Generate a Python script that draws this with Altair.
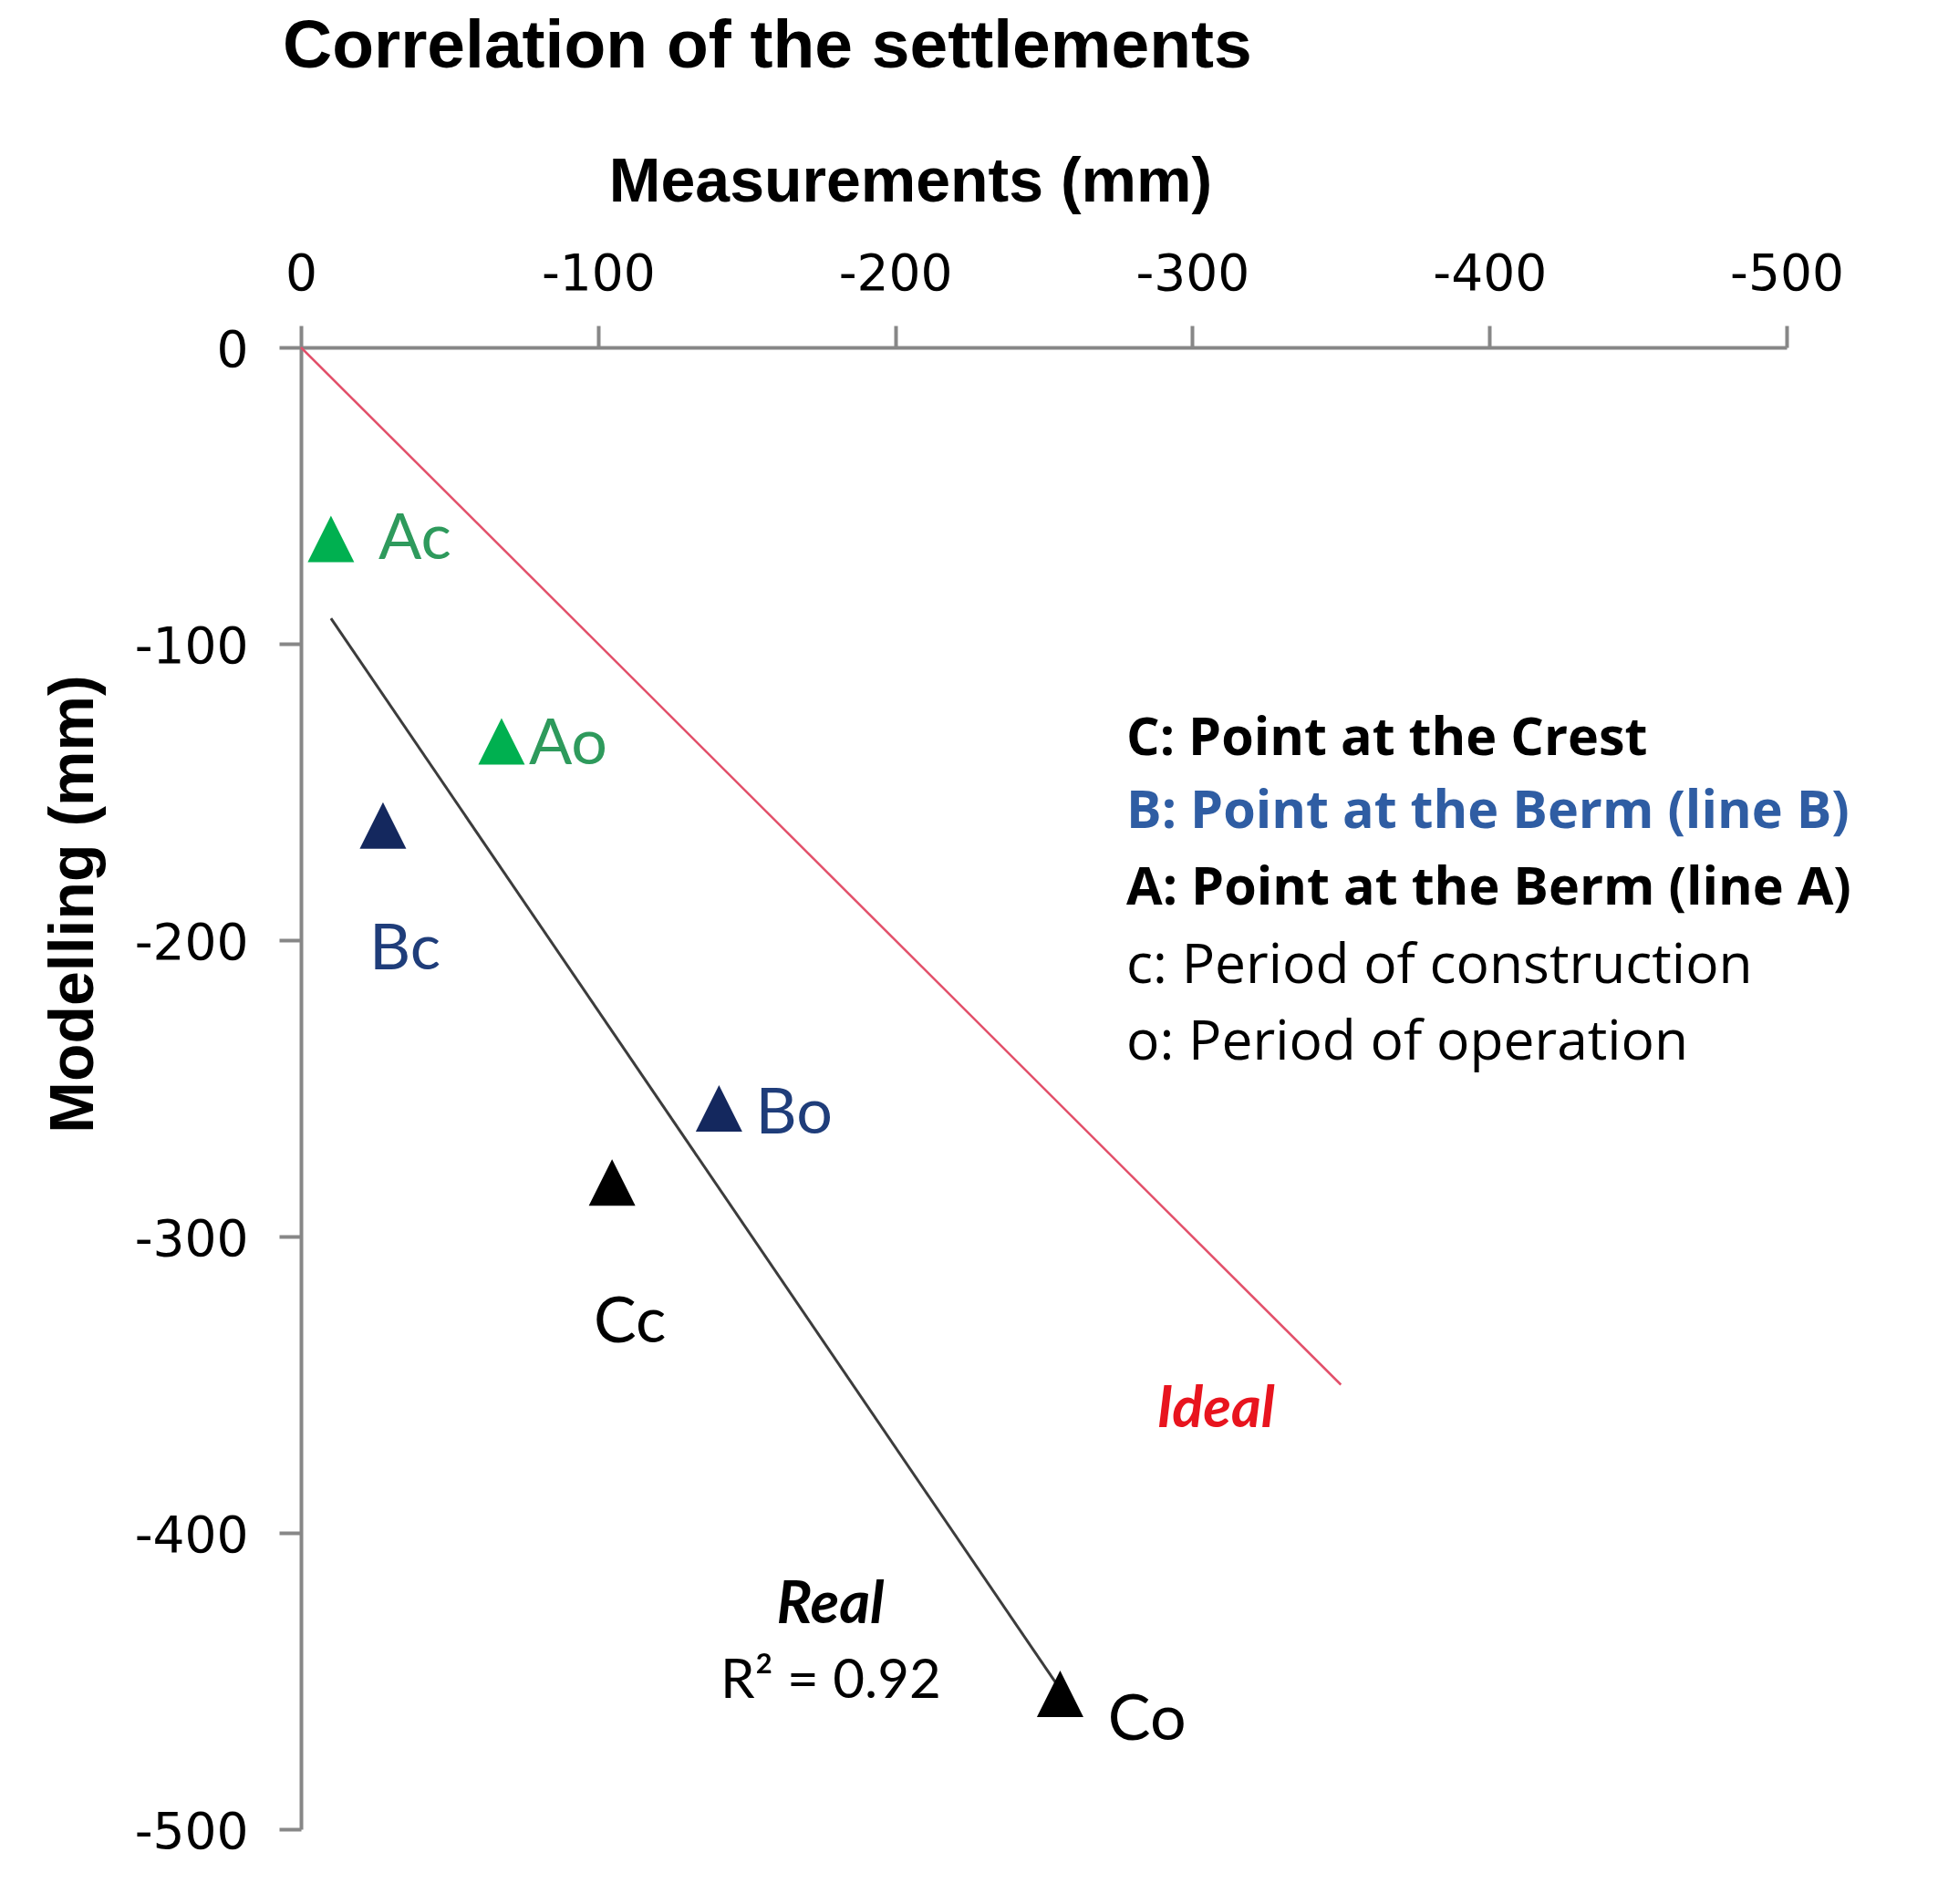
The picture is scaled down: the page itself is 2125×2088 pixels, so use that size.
import altair as alt
import pandas as pd

# ---- data ----
point_names = ["Ac", "Ao", "Bc", "Bo", "Cc", "Co"]
point_group = ["A", "A", "B", "B", "C", "C"]
measured = [-10.1, -67.5, -27.6, -140.7, -104.7, -255.5]
modelled = [-64.6, -132.9, -161.3, -256.8, -281.8, -454.3]

# label anchors (data units)
label_x = [-26.1, -76.7, -23.0, -153.0, -98.5, -271.6]
label_y = [-71.4, -140.6, -209.8, -265.2, -335.7, -469.8]

ideal_x = [0, -350]
ideal_y = [0, -350]

legend_text = [
    "C: Point at the Crest",
    "B: Point at the Berm (line B)",
    "A: Point at the Berm (line A)",
    "c: Period of construction",
    "o: Period of operation",
]
legend_key = ["C", "B", "A", "c", "o"]
legend_x = [-277.8] * 5
legend_y = [-137.5, -162.2, -188.0, -214.5, -240.3]

ideal_label = ["Ideal"]
ideal_label_x = [-307.9]
ideal_label_y = [-364.3]

real_label = ["Real", "R\u00b2 = 0.92"]
real_label_x = [-178.2, -178.3]
real_label_y = [-430.5, -455.7]

tick_values = [0, -100, -200, -300, -400, -500]

# ---- tables ----
pts = pd.DataFrame({"name": point_names, "group": point_group,
                    "measured": measured, "modelled": modelled,
                    "lx": label_x, "ly": label_y})
ideal = pd.DataFrame({"measured": ideal_x, "modelled": ideal_y})
leg = pd.DataFrame({"text": legend_text, "key": legend_key,
                    "measured": legend_x, "modelled": legend_y})
idl = pd.DataFrame({"text": ideal_label, "measured": ideal_label_x, "modelled": ideal_label_y})
rl = pd.DataFrame({"text": real_label, "measured": real_label_x, "modelled": real_label_y,
                   "k": ["t", "r"]})

AXIS_GRAY = "#878787"
label_expr = "datum.value == 0 ? '0' : '-' + abs(datum.value)"

xscale = alt.Scale(domain=[0, -500], nice=False, zero=False)
yscale = alt.Scale(domain=[-500, 0], nice=False, zero=False)

xaxis = alt.Axis(
    orient="top", values=tick_values, labelExpr=label_expr, grid=False,
    title="Measurements (mm)", titleFont="Liberation Sans", titleFontSize=68,
    titleFontWeight="bold", titleColor="black", titleX=668, titleY=-161,
    titleBaseline="alphabetic", titleAlign="center", titleAngle=0,
    labelFont="DejaVu Sans", labelFontSize=55, labelColor="black",
    labelPadding=40, labelBaseline="alphabetic", labelFlush=False,
    labelOverlap=False, labelBound=False,
    domainColor=AXIS_GRAY, domainWidth=4, tickColor=AXIS_GRAY, tickWidth=4, tickSize=24,
)
yaxis = alt.Axis(
    orient="left", values=tick_values, labelExpr=label_expr, grid=False,
    title="Modelling (mm)", titleFont="Liberation Sans", titleFontSize=68,
    titleFontWeight="bold", titleColor="black", titleX=-229, titleY=610,
    titleBaseline="alphabetic", titleAlign="center", titleAngle=270,
    labelFont="DejaVu Sans", labelFontSize=55, labelColor="black",
    labelPadding=34, labelBaseline="alphabetic", labelOffset=20, labelFlush=False,
    labelOverlap=False, labelBound=False,
    domainColor=AXIS_GRAY, domainWidth=4, tickColor=AXIS_GRAY, tickWidth=4, tickSize=24,
)

X = alt.X("measured:Q", scale=xscale, axis=xaxis)
Y = alt.Y("modelled:Q", scale=yscale, axis=yaxis)

ideal_line = alt.Chart(ideal).mark_line(color="#E2506A", strokeWidth=2.5).encode(x=X, y=Y)

real_line = alt.Chart(pts).transform_regression("measured", "modelled").mark_line(
    color="#3C3C3C", strokeWidth=3).encode(x=X, y=Y)

tri = alt.Chart(pts).mark_point(shape="M0,-1L1,1L-1,1Z", filled=True, size=2601, opacity=1,
                                strokeWidth=0).encode(
    x=X, y=Y,
    color=alt.Color("group:N", scale=alt.Scale(domain=["A", "B", "C"],
                                               range=["#00B050", "#14285E", "#000000"]),
                    legend=None),
)

pt_labels = alt.Chart(pts).mark_text(align="left", baseline="alphabetic", font="Lato",
                                     fontSize=70).encode(
    x=alt.X("lx:Q", scale=xscale, axis=xaxis),
    y=alt.Y("ly:Q", scale=yscale, axis=yaxis),
    text="name:N",
    color=alt.Color("group:N", scale=alt.Scale(domain=["A", "B", "C"],
                                               range=["#2E9A5C", "#1F3D7A", "#000000"]),
                    legend=None),
)

leg_bold = alt.Chart(leg).transform_filter("indexof(['C','B','A'], datum.key) >= 0").mark_text(
    align="left", baseline="alphabetic", font="Open Sans", fontSize=57.5, fontWeight="bold").encode(
    x=X, y=Y, text="text:N",
    color=alt.condition(alt.datum.key == "B", alt.value("#2F5DA3"), alt.value("#000000")),
)
leg_reg = alt.Chart(leg).transform_filter("indexof(['c','o'], datum.key) >= 0").mark_text(
    align="left", baseline="alphabetic", font="Open Sans", fontSize=60.5, color="black").encode(
    x=X, y=Y, text="text:N")

ideal_txt = alt.Chart(idl).mark_text(align="center", baseline="alphabetic", font="Lato",
                                     fontSize=63, fontWeight="bold", fontStyle="italic",
                                     color="#E8141E").encode(x=X, y=Y, text="text:N")

real_t = alt.Chart(rl).transform_filter("datum.k == 't'").mark_text(
    align="center", baseline="alphabetic", font="Lato", fontSize=65, fontWeight="bold",
    fontStyle="italic", color="black").encode(x=X, y=Y, text="text:N")
real_r = alt.Chart(rl).transform_filter("datum.k == 'r'").mark_text(
    align="center", baseline="alphabetic", font="Lato", fontSize=60,
    color="black").encode(x=X, y=Y, text="text:N")

chart = alt.layer(ideal_line, real_line, tri, pt_labels, leg_bold, leg_reg, ideal_txt,
                  real_t, real_r).resolve_scale(color="independent").properties(
    width=1629, height=1625,
    view=alt.ViewBackground(stroke="transparent", strokeWidth=0),
    title=alt.TitleParams("Correlation of the settlements", anchor="start", frame="group",
                          font="Liberation Sans", fontSize=75, fontWeight="bold",
                          color="black", dx=-20, offset=17, baseline="alphabetic"),
    autosize=alt.AutoSizeParams(type="none"),
    padding={"left": 322, "top": 373, "right": 120, "bottom": 60},
).configure_view(strokeWidth=0, stroke="transparent").configure(background="white")

chart.save("out.html", embed_options={"renderer": "svg", "actions": False})
